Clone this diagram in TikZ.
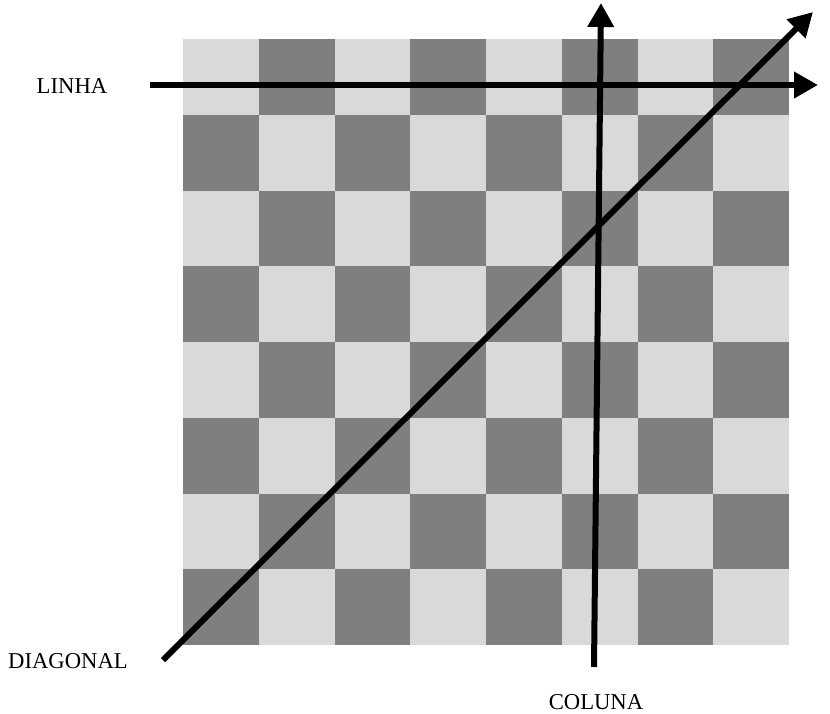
\documentclass[tikz,border=0pt]{standalone}
\usepackage{fontspec}
\setmainfont{Liberation Serif}
\usetikzlibrary{arrows.meta}
\definecolor{boarddark}{HTML}{7F7F7F}
\definecolor{boardlight}{HTML}{D9D9D9}
\newcommand{\boardlabel}[3]{%
  \node[font=\fontsize{17}{20}\selectfont, inner sep=0pt] (#1) at (#2) {#3};}

\begin{document}
\begin{tikzpicture}[x=0.75pt, y=-0.75pt,
    dirarrow/.style={-{Triangle[length=18pt, width=19pt]}, line width=4.5pt, black}]
  \useasboundingbox (0,0) rectangle (830,713);
  % board squares
  \foreach \r in {0,...,7} {
    \foreach \c in {0,...,7} {
      \pgfmathtruncatemacro\s{\r+\c}
      \ifodd\s \def\sqcol{boarddark}\else \def\sqcol{boardlight}\fi
      \fill[\sqcol] (183+75.75*\c, 39+75.75*\r) rectangle ++(75.75,75.75);
    }
  }
  % ends of the three directions
  \coordinate (linhaA) at (150,85);
  \coordinate (linhaB) at (818,85);
  \coordinate (colunaA) at (594,667);
  \coordinate (colunaB) at (601,3);
  \coordinate (diagA) at (163,660);
  \coordinate (diagB) at (813,12);
  \draw[dirarrow] (linhaA) -- (linhaB);
  \draw[dirarrow] (colunaA) -- (colunaB);
  \draw[dirarrow] (diagA) -- (diagB);
  \boardlabel{linha}{72,86}{LINHA}
  \boardlabel{diagonal}{68,661}{DIAGONAL}
  \boardlabel{coluna}{596,702}{COLUNA}
\end{tikzpicture}
\end{document}
